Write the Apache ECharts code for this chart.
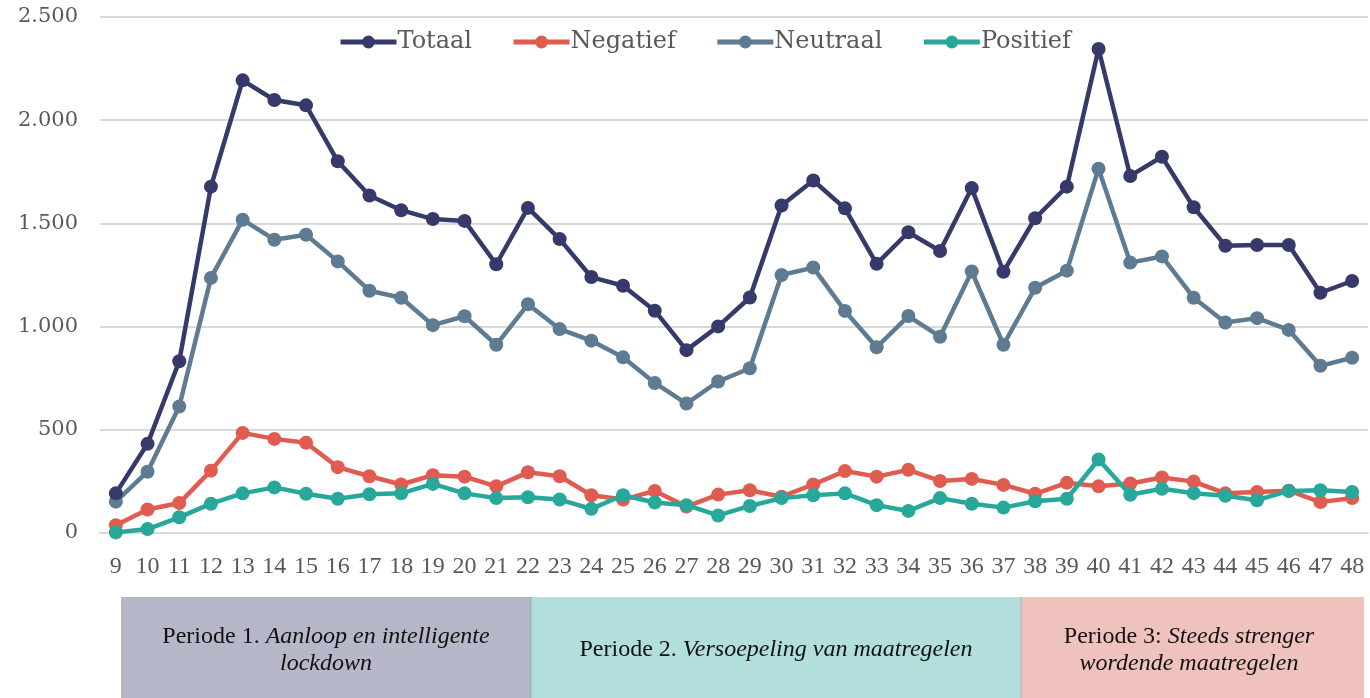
<!DOCTYPE html>
<html>
<head>
<meta charset="utf-8">
<script src="https://cdn.jsdelivr.net/npm/echarts@6/dist/echarts.min.js"></script>
<style>html,body{margin:0;padding:0;background:#fff;}#c{width:1370px;height:698px;}</style>
</head>
<body>
<div id="c"></div>
<script>
const weeks = ['9','10','11','12','13','14','15','16','17','18','19','20','21','22','23','24','25','26','27','28','29','30','31','32','33','34','35','36','37','38','39','40','41','42','43','44','45','46','47','48'];
const totaal = [192,432,832,1678,2193,2098,2072,1801,1635,1564,1521,1512,1302,1575,1424,1240,1198,1077,886,1001,1141,1587,1708,1573,1304,1457,1366,1671,1266,1525,1678,2345,1730,1823,1578,1392,1395,1395,1164,1221];
const negatief = [38,114,145,302,485,456,437,319,275,235,280,273,226,294,275,183,162,204,128,186,207,176,235,300,273,306,252,262,233,190,243,226,240,269,249,192,199,205,150,169];
const neutraal = [152,297,613,1236,1518,1421,1445,1316,1174,1140,1007,1050,912,1108,988,932,851,727,627,734,798,1250,1286,1076,900,1051,951,1267,912,1188,1271,1765,1310,1340,1140,1020,1041,984,810,849];
const positief = [3,19,76,142,192,221,190,166,188,192,238,192,169,173,162,117,183,148,135,85,131,169,183,192,135,107,169,142,123,154,166,356,185,214,193,180,159,204,207,199];
const seriesNames = ['Totaal','Negatief','Neutraal','Positief'];
const colors = ['#363a6a','#e05c50','#5e7b91','#27a89a'];

const chart = echarts.init(document.getElementById('c'));
function mk(name, data, color, z) {
  return {name, type:'line', data, color, z,
    symbol:'circle', symbolSize:14,
    lineStyle:{width:4.5, color},
    itemStyle:{color},
    animation:false};
}
function box(x, w, fill, text, cx) {
  return {type:'group', children:[
    {type:'rect', shape:{x:x, y:597, width:w, height:101}, style:{fill:fill}},
    {type:'text', x:cx, y:650, style:{text:text, align:'center', verticalAlign:'middle',
      fill:'#111', font:'24px "Liberation Serif"', lineHeight:27,
      rich:{n:{fontFamily:'Liberation Serif', fontSize:24, fill:'#111', lineHeight:27},
            i:{fontFamily:'Liberation Serif', fontSize:24, fontStyle:'italic', fill:'#111', lineHeight:27}}}}
  ]};
}
chart.setOption({
  backgroundColor:'#fff',
  animation:false,
  grid:{left:100, right:2, top:17, bottom:165},
  legend:{data:seriesNames, left:333, top:25, itemWidth:56, itemHeight:16, itemGap:39,
    lineStyle:{width:5},
    textStyle:{fontFamily:'DejaVu Serif', fontSize:24, color:'#595959', padding:[0,0,0,-4]}},
  xAxis:{type:'category', data:weeks, boundaryGap:true,
    axisLine:{show:true, lineStyle:{color:'#d9d9d9', width:2}},
    axisTick:{show:false},
    axisLabel:{interval:0, fontFamily:'Liberation Serif', fontSize:24, color:'#595959', margin:22}},
  yAxis:{type:'value', min:0, max:2500, interval:500,
    axisLine:{show:false}, axisTick:{show:false},
    splitLine:{lineStyle:{color:'#d9d9d9', width:2}},
    axisLabel:{fontFamily:'DejaVu Serif', fontSize:21, color:'#595959', margin:22,
      formatter:v=>v>=1000? (Math.floor(v/1000)+'.'+String(v%1000).padStart(3,'0')) : String(v)}},
  series:[mk('Totaal',totaal,colors[0],4), mk('Negatief',negatief,colors[1],5), mk('Neutraal',neutraal,colors[2],3), mk('Positief',positief,colors[3],6)],
  graphic:[
    box(121, 410, '#b6b7c8', '{n|Periode 1. }{i|Aanloop en intelligente}\n{i|lockdown}', 326),
    box(531, 490, '#b2dfdb', '{n|Periode 2. }{i|Versoepeling van maatregelen}', 776),
    box(1021, 343, '#f0c2bd', '{n|Periode 3: }{i|Steeds strenger}\n{i|wordende maatregelen}', 1189),
    {type:'rect', shape:{x:530.5, y:597, width:1, height:101}, style:{fill:'#8fb0b5'}},
    {type:'rect', shape:{x:1020.5, y:597, width:1, height:101}, style:{fill:'#b9b0b0'}}
  ]
});
</script>
</body>
</html>
